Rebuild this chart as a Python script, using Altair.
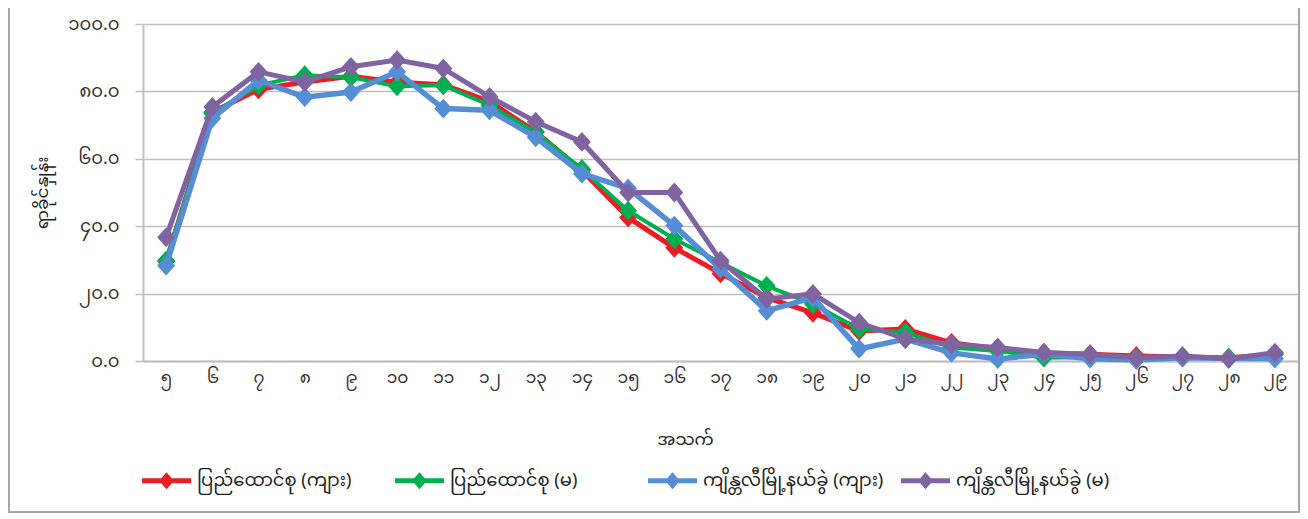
import altair as alt
import pandas as pd

# Age categories (Myanmar digits)
ages = ['၅', '၆', '၇', '၈', '၉', '၁၀', '၁၁', '၁၂', '၁၃', '၁၄', '၁၅', '၁၆', '၁၇',
        '၁၈', '၁၉', '၂၀', '၂၁', '၂၂', '၂၃', '၂၄', '၂၅', '၂၆', '၂၇', '၂၈', '၂၉']

series_names = ['ပြည်ထောင်စု (ကျား)', 'ပြည်ထောင်စု (မ)',
                'ကျိန္တလီမြို့နယ်ခွဲ (ကျား)', 'ကျိန္တလီမြို့နယ်ခွဲ (မ)']

union_male = [29.5, 73.8, 80.6, 82.8, 84.5, 82.7, 82.0, 77.0, 68.0, 56.5, 42.6, 33.6, 26.0,
              18.8, 14.3, 8.9, 9.5, 5.4, 3.6, 2.4, 2.0, 1.5, 1.2, 1.0, 2.0]
union_female = [29.8, 73.5, 81.8, 84.8, 84.2, 81.5, 81.8, 75.9, 67.8, 57.0, 44.6, 36.2, 29.2,
                22.3, 16.9, 9.5, 8.5, 4.0, 3.0, 1.0, 1.2, 1.0, 1.0, 1.0, 2.0]
sub_male = [28.3, 72.0, 83.3, 78.3, 79.8, 85.8, 74.9, 74.4, 66.4, 55.6, 51.2, 40.2, 27.4,
            14.9, 18.8, 3.6, 6.5, 2.4, 0.6, 2.0, 0.7, 0.3, 1.0, 0.8, 0.7]
sub_female = [36.7, 75.4, 85.8, 82.8, 87.3, 89.3, 86.8, 78.4, 71.0, 65.0, 50.0, 50.0, 29.8,
              18.4, 19.9, 11.4, 6.5, 5.0, 4.0, 2.5, 2.0, 1.0, 1.5, 0.6, 2.5]

y_tick_values = [0, 20, 40, 60, 80, 100]
y_tick_labels = ['၀.၀', '၂၀.၀', '၄၀.၀', '၆၀.၀', '၈၀.၀', '၁၀၀.၀']

colors = ['#ED1C24', '#00B050', '#558ED5', '#8064A2']
line_widths = [5, 4, 5.5, 5]

x_title = 'အသက်'
y_title = 'ရာခိုင်နှုန်း'

FONT = 'Noto Sans Myanmar, Padauk, Myanmar Text, Noto Sans, sans-serif'

all_values = [union_male, union_female, sub_male, sub_female]
rows = []
for name, vals in zip(series_names, all_values):
    for a, v in zip(ages, vals):
        rows.append({'age': a, 'value': v, 'series': name})
df = pd.DataFrame(rows)

label_expr = '[' + ','.join("'%s'" % s for s in y_tick_labels) + '][round(datum.value / 20)]'

legend_path = ('M-2,-0.2L-0.43,-0.2L0,-0.7L0.43,-0.2L2,-0.2L2,0.2L0.43,0.2L0,0.7'
               'L-0.43,0.2L-2,0.2Z')

color_enc = alt.Color(
    'series:N',
    scale=alt.Scale(domain=series_names, range=colors),
    sort=series_names,
    legend=alt.Legend(
        title=None, orient='none', legendX=11, legendY=444, direction='horizontal',
        columns=4, gridAlign='all', columnPadding=17, symbolType=legend_path,
        symbolSize=600, symbolStrokeWidth=0, symbolOpacity=1, labelFont=FONT,
        labelFontSize=18, labelColor='#222222', labelOffset=18, padding=0,
        labelLimit=400,
    ),
)

x_enc = alt.X(
    'age:O', sort=ages, scale=alt.Scale(domain=ages, type='point', padding=0.5),
    axis=alt.Axis(title=x_title, labelAngle=0, labelFont=FONT, labelFontSize=17,
                  labelColor='#333333', ticks=False, labelPadding=8, domainColor='#BFBFBF',
                  domainWidth=2, grid=False, titleFont=FONT, titleFontSize=17,
                  titleFontWeight='normal', titleColor='#222222', titleX=542, titleY=78,
                  titleBaseline='middle'),
)
y_enc = alt.Y(
    'value:Q', scale=alt.Scale(domain=[0, 100], nice=False),
    axis=alt.Axis(title=y_title, values=y_tick_values, labelExpr=label_expr,
                  labelFont=FONT, labelFontSize=18, labelColor='#333333',
                  tickSize=8, tickColor='#BFBFBF', tickWidth=1.5, labelPadding=16,
                  domainColor='#BFBFBF', domainWidth=2, gridColor='#BFBFBF',
                  gridWidth=1.5, titleFont=FONT, titleFontSize=17,
                  titleFontWeight='normal', titleColor='#222222', titlePadding=16),
)

diamond = 'M0,-1.1L1,0L0,1.1L-1,0Z'

layers = []
for name, col, lw in zip(series_names, colors, line_widths):
    base = alt.Chart(df).transform_filter(alt.datum.series == name)
    layers.append(base.mark_line(strokeWidth=lw, color=col).encode(x=x_enc, y=y_enc))
    layers.append(base.mark_point(shape=diamond, filled=True, size=324, opacity=1).encode(
        x=x_enc, y=y_enc, color=color_enc))

frame_base = alt.Chart(df.head(1))
frame_left = frame_base.mark_rule(stroke='#A6A6A6', strokeWidth=2).encode(
    x=alt.value(-134), y=alt.value(-16), y2=alt.value(489))
frame_right = frame_base.mark_rule(stroke='#A6A6A6', strokeWidth=2).encode(
    x=alt.value(1156), y=alt.value(-16), y2=alt.value(489))
frame_bottom = frame_base.mark_rule(stroke='#A6A6A6', strokeWidth=2).encode(
    x=alt.value(-135), x2=alt.value(1157), y=alt.value(488))

chart = alt.layer(*layers, frame_left, frame_right, frame_bottom).properties(
    width=1155, height=337,
    autosize=alt.AutoSizeParams(type='none'),
    padding={'left': 135, 'top': 16, 'right': 2, 'bottom': 152},
).configure_view(stroke=None).configure(background='white')

chart.save('out.html', embed_options={'renderer': 'svg', 'actions': False})
